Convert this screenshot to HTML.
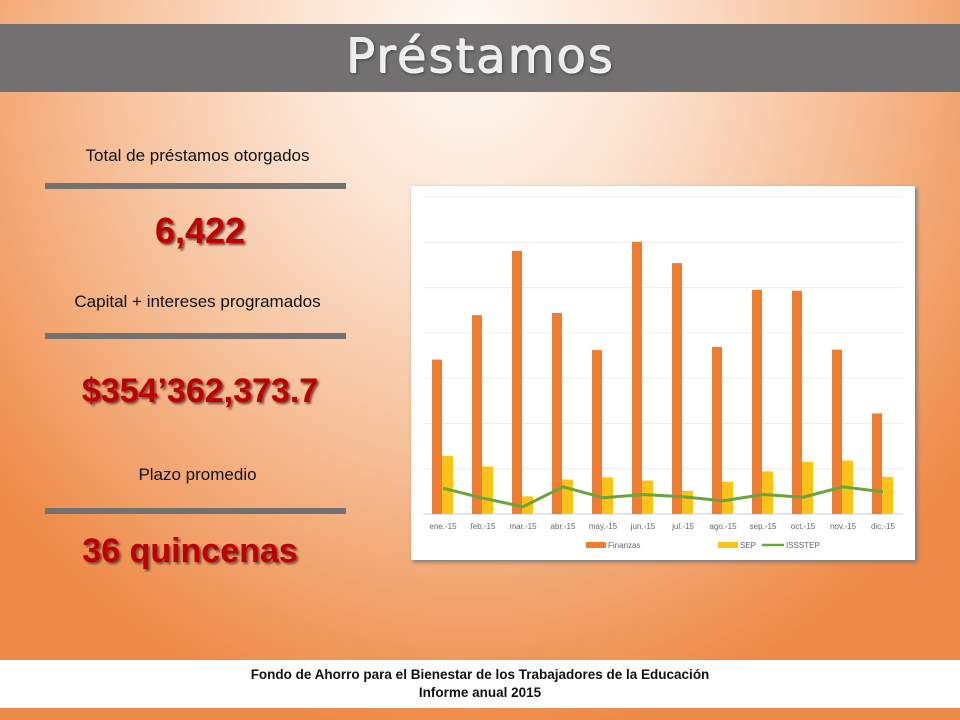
<!DOCTYPE html>
<html><head><meta charset="utf-8">
<style>
html,body{margin:0;padding:0}
body{width:960px;height:720px;position:relative;overflow:hidden;font-family:"Liberation Sans",sans-serif;
background:radial-gradient(ellipse 620px 700px at 470px 40px,#fffaf5 0%,#fbe2cf 30%,#f6bf98 60%,#f0975a 90%,#ee8a48 100%);}
.title{position:absolute;left:0;top:24px;width:960px;height:68px;background:#727070;}
.title span{position:absolute;left:0;width:960px;top:4px;text-align:center;font-size:48px;color:#ececec;letter-spacing:2px;
text-shadow:1px 1px 0 #fff,2px 2px 3px #444;font-family:"DejaVu Sans","Liberation Sans",sans-serif;}
.lbl{position:absolute;left:30px;width:335px;text-align:center;font-size:17px;color:#111;}
.bar{position:absolute;left:45px;width:301px;height:6px;background:#737070;}
.big{position:absolute;left:20px;width:360px;text-align:center;font-weight:bold;color:#c00000;text-shadow:2px 2px 2px #7a4a3a;}
.panel{position:absolute;left:411px;top:186px;width:504px;height:374px;background:#fff;box-shadow:2px 2px 4px #777;}
.footer{position:absolute;left:0;top:660px;width:960px;height:48px;background:#fff;text-align:center;font-weight:bold;font-size:13.5px;line-height:18px;color:#111;padding-top:6px;box-sizing:border-box;}
</style></head><body>
<div class="title"><span>Préstamos</span></div>

<div class="lbl" style="top:146px">Total de préstamos otorgados</div>
<div class="bar" style="top:183px"></div>
<div class="big" style="top:210px;font-size:36px">6,422</div>

<div class="lbl" style="top:292px">Capital + intereses programados</div>
<div class="bar" style="top:333px"></div>
<div class="big" style="top:372px;font-size:34px">$354’362,373.7</div>

<div class="lbl" style="top:465px">Plazo promedio</div>
<div class="bar" style="top:508px"></div>
<div class="big" style="top:532px;font-size:34px;left:10px">36 quincenas</div>

<div class="panel">
<svg id="chart" width="504" height="374"></svg>
</div>

<div class="footer">Fondo de Ahorro para el Bienestar de los Trabajadores de la Educación<br>Informe anual 2015</div>

<script>
const categories=["ene.-15","feb.-15","mar.-15","abr.-15","may.-15","jun.-15","jul.-15","ago.-15","sep.-15","oct.-15","nov.-15","dic.-15"];
const finanzas=[341,439,581,444,362,601,554,369,495,493,363,222];
const sep=[128,105,39,76,81,74,51,71,94,115,118,82];
const issstep=[57,35,16,60,36,43,38,29,43,37,60,49];
const gridTicks=[0,100,200,300,400,500,600,700];

const svgEl=document.getElementById('chart');
const NS='http://www.w3.org/2000/svg';
const plotLeft=12,plotRight=492,plotBase=328,plotTop=11,maxV=700;
const yS=v=>plotBase-(v/maxV)*(plotBase-plotTop);
const band=(plotRight-plotLeft)/categories.length;
const xc=i=>plotLeft+band*(i+0.5);
function mk(t,a){const e=document.createElementNS(NS,t);for(const k in a)e.setAttribute(k,a[k]);svgEl.appendChild(e);return e;}

gridTicks.forEach(t=>{
 const l=mk('line',{x1:plotLeft,x2:plotRight,y1:yS(t),y2:yS(t),stroke:t===0?'#d0d0d0':'#ececec','stroke-width':1});
 
 
});
categories.forEach((c,i)=>{
 const b1=mk('rect',{x:xc(i)-11,y:yS(finanzas[i]),width:10,height:plotBase-yS(finanzas[i]),fill:'#ee7d31'});
 
 
 const b2=mk('rect',{x:xc(i)-1,y:yS(sep[i]),width:11,height:plotBase-yS(sep[i]),fill:'#fbc21a'});
 
 
 const t=mk('text',{x:xc(i),y:plotBase+15,'text-anchor':'middle','font-size':8,fill:'#666','font-family':'Liberation Sans, sans-serif'});
 t.textContent=c;
 
 
});
const pts=issstep.map((v,i)=>xc(i)+','+yS(v)).join(' ');
const pl=mk('polyline',{points:pts,fill:'none',stroke:'#6aa43a','stroke-width':3,'stroke-linejoin':'round'});



const legend=[["Finanzas","#ee7d31","rect"],["SEP","#fbc21a","rect"],["ISSSTEP","#6aa43a","line"]];
const lx=[175,307,351];
legend.forEach((l,i)=>{
 const g=document.createElementNS(NS,'g');svgEl.appendChild(g);
 
 
 if(l[2]==='rect'){const r=document.createElementNS(NS,'rect');r.setAttribute('x',lx[i]);r.setAttribute('y',356);r.setAttribute('width',20);r.setAttribute('height',6);r.setAttribute('fill',l[1]);g.appendChild(r);}
 else{const r=document.createElementNS(NS,'line');r.setAttribute('x1',lx[i]);r.setAttribute('x2',lx[i]+22);r.setAttribute('y1',359);r.setAttribute('y2',359);r.setAttribute('stroke',l[1]);r.setAttribute('stroke-width',2.5);g.appendChild(r);}
 const t=document.createElementNS(NS,'text');t.setAttribute('x',lx[i]+(l[2]==='rect'?22:24));t.setAttribute('y',362);t.setAttribute('font-size',8);t.setAttribute('fill','#666');t.setAttribute('font-family','Liberation Sans, sans-serif');t.textContent=l[0];g.appendChild(t);
});
</script>
</body></html>
